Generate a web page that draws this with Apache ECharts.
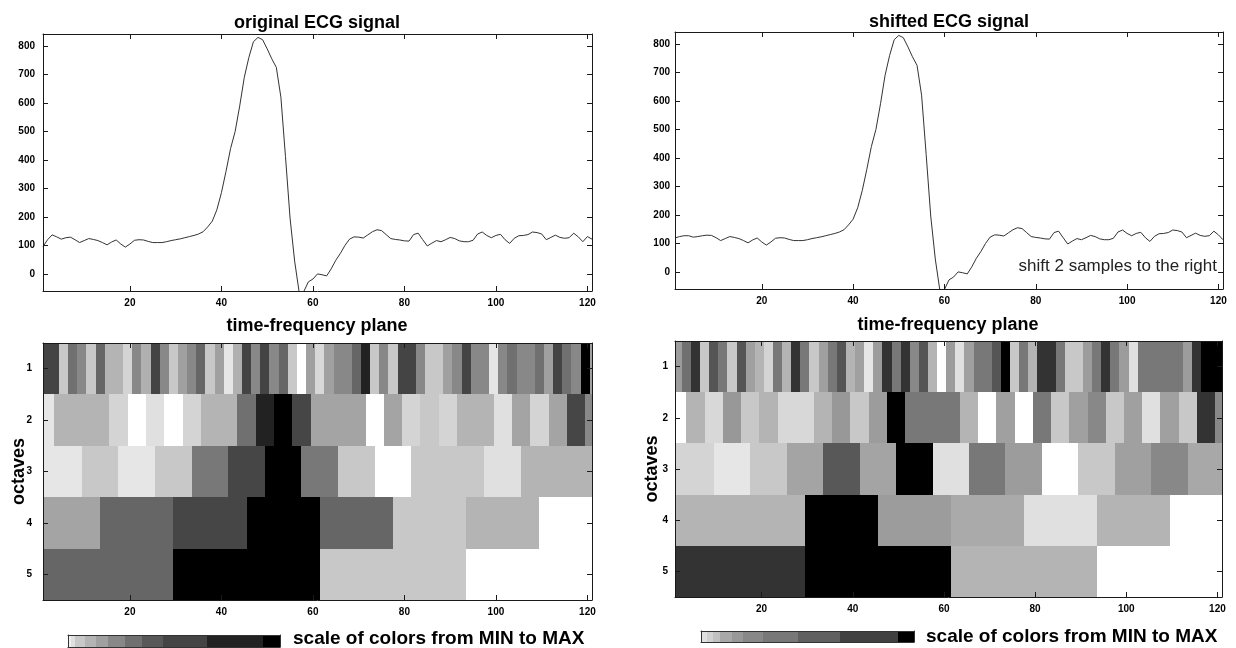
<!DOCTYPE html>
<html>
<head>
<meta charset="utf-8">
<script src="https://cdn.jsdelivr.net/npm/echarts@6/dist/echarts.min.js"></script>
<style>
html,body{margin:0;padding:0;background:#fff;}
#chart{width:1236px;height:648px;}
</style>
</head>
<body>
<div id="chart"></div>
<script>
// ---------------- data ----------------
const xTicks = [20, 40, 60, 80, 100, 120];
const yTicks = [0, 100, 200, 300, 400, 500, 600, 700, 800];
const octaves = ['1', '2', '3', '4', '5'];

// ECG samples 1..121
const ecgOriginal = [96,120,137,130,122,127,129,120,110,117,
  124,121,117,110,102,112,119,105,94,105,
  118,120,119,114,110,110,110,113,117,120,
  123,127,131,135,140,148,165,185,225,285,
  360,440,500,590,690,760,815,830,822,790,
  755,725,620,412,196,45,-65,-62,-28,-18,
  0,-3,-7,18,48,72,100,122,130,129,
  126,137,148,155,152,138,124,121,119,116,
  115,138,143,120,98,108,117,113,120,128,
  124,116,113,113,118,140,147,135,127,135,
  139,120,107,125,134,135,138,147,145,140,
  120,128,136,128,125,127,143,130,113,131,
  122];

const ecgShifted = [119,124,127,127,122,124,127,129,128,120,
  110,117,124,121,117,110,102,112,119,105,
  94,105,118,120,119,114,110,110,110,113,
  117,120,123,127,131,135,140,148,165,185,
  225,285,360,440,500,590,690,760,815,830,
  822,790,755,725,620,412,196,45,-65,-62,
  -28,-18,0,-3,-7,18,48,72,100,122,
  130,129,126,137,148,155,152,138,124,121,
  119,116,115,138,143,120,98,108,117,113,
  120,128,124,116,113,113,118,140,147,135,
  127,135,139,120,107,125,134,135,138,147,
  145,140,120,128,136,128,125,127,143,130,
  113];

// time-frequency plane: support of each octave's cells (in samples)
const octaveFirstStart = [0.5, -0.5, -6.5, -2.5, -2.5];
const octaveCellWidth = [2, 4, 8, 16, 32];

// gray level of each cell (255 = white = MIN, 0 = black = MAX)
const tfOrigOct1 = [0x44,0x44,0xc8,0x70,0x88,0xc8,0x66,0xb4,0xb4,0xd4,
  0x88,0xb0,0x44,0x88,0xc8,0xa0,0x88,0x66,0xc8,0xa0,
  0xe6,0xb0,0x44,0x88,0x44,0x88,0x66,0xc8,0xff,0xa0,
  0xd8,0xa0,0x88,0x88,0x66,0x22,0xc8,0x88,0xc8,0x44,
  0x44,0x88,0xc8,0xc8,0xa0,0x88,0x44,0x88,0x88,0xe6,
  0x88,0x70,0x88,0x88,0x70,0xa0,0x44,0x70,0x88,0x00,
  0xa0];
const tfOrigOct2 = [0xe6,0xb4,0xb4,0xb4,0xd4,0xff,0xe0,0xff,0xd4,0xb4,
  0xb4,0x70,0x22,0x00,0x46,0xa4,0xa4,0xa4,0xff,0xa4,
  0xd4,0xc8,0xd4,0xb4,0xb4,0xe0,0xa4,0xd4,0xa4,0x46,
  0x88];
const tfOrigOct3 = [0xe6,0xe6,0xc8,0xe6,0xc8,0x78,0x46,0x00,0x78,0xc8,0xff,0xc8,0xc8,0xe0,0xb4,0xb4];
const tfOrigOct4 = [0xa4,0x66,0x46,0x00,0x66,0xc8,0xb4,0xff];
const tfOrigOct5 = [0x66,0x00,0xc8,0xff];

const tfShiftOct1 = [0x9c,0x70,0x33,0xc8,0x55,0x78,0xc8,0x55,0xa0,0xb4,
  0xd4,0x78,0xb4,0x33,0x78,0xc8,0xa0,0x78,0x55,0xb4,
  0xa0,0xe6,0x9c,0x33,0x78,0x33,0x88,0x55,0xb4,0xff,
  0x9c,0xe0,0xa0,0x78,0x78,0x55,0x00,0xc8,0x78,0xb4,
  0x33,0x33,0x78,0xc8,0xc8,0x9c,0x78,0x33,0x78,0x9c,
  0xe0,0x78,0x78,0x78,0x78,0x78,0x9c,0x33,0x00,0x00,
  0x00];
const tfShiftOct2 = [0xff,0xb4,0xd8,0x98,0xc8,0xb4,0xd8,0xd8,0xb4,0x98,
  0xc8,0x9c,0x00,0x78,0x78,0x78,0xb4,0xff,0xa0,0xff,
  0x78,0xc8,0xa0,0x88,0xc8,0xa0,0xe0,0xa0,0xc8,0x33,
  0x88];
const tfShiftOct3 = [0xd4,0xd4,0xe6,0xc8,0xa4,0x58,0xa4,0x00,0xe0,0x78,0x9c,0xff,0xc8,0xa0,0x88,0xa8];
const tfShiftOct4 = [0xb4,0xb4,0x00,0x9c,0xaa,0xe0,0xb4,0xff];
const tfShiftOct5 = [0x33,0x00,0xb4,0xff];

// colour scale (MIN -> MAX), position in % of the bar and gray level
const scaleLeftEdges = [0,1.4,3.3,8.0,13.1,19.0,26.9,34.8,45.0,65.4,92.1,100];
const scaleLeftGrays = [0xf0,0xe0,0xc8,0xb4,0xa0,0x88,0x70,0x58,0x44,0x22,0x00];
const scaleRightEdges = [0,3.0,5.8,8.9,14.4,19.8,29.2,45.6,65.2,92.6,100];
const scaleRightGrays = [0xe0,0xd0,0xc0,0xa8,0x98,0x88,0x78,0x60,0x40,0x00];

// ---------------- helpers ----------------
const FONT = '"Liberation Sans", Arial, Helvetica, sans-serif';
const AX = '#1a1a1a';

function buildCells(rows) {
  const out = [];
  rows.forEach(function (vals, r) {
    vals.forEach(function (g, k) {
      const a = octaveFirstStart[r] + k * octaveCellWidth[r];
      out.push([a, a + octaveCellWidth[r], r, g]);
    });
  });
  return out;
}
function buildScale(edges, grays) {
  return grays.map(function (g, i) { return [edges[i], edges[i + 1], g]; });
}
function gray(g) { return 'rgb(' + g + ',' + g + ',' + g + ')'; }

function renderCell(params, api) {
  const row = api.value(2);
  const a = api.coord([api.value(0), row]);
  const b = api.coord([api.value(1), row]);
  const h = api.size([0, 1])[1];
  const x0 = Math.round(a[0]), x1 = Math.round(b[0]);
  const y0 = Math.round(a[1] - h / 2), y1 = Math.round(a[1] + h / 2);
  return { type: 'rect', shape: { x: x0, y: y0, width: x1 - x0, height: y1 - y0 },
    style: { fill: gray(api.value(3)) } };
}
function renderSeg(params, api) {
  const a = api.coord([api.value(0), 0]);
  const b = api.coord([api.value(1), 1]);
  const x0 = Math.round(a[0]), x1 = Math.round(b[0]);
  return { type: 'rect', shape: { x: x0, y: b[1], width: x1 - x0, height: a[1] - b[1] },
    style: { fill: gray(api.value(2)) } };
}

const LBL = { color: '#000', fontWeight: 'bold', fontSize: 10, fontFamily: FONT };

function xVal(grid, pos, showLabel) {
  return { type: 'value', gridIndex: grid, position: pos, min: 1, max: 121, z: 10,
    axisLine: { show: true, onZero: false, lineStyle: { color: AX, width: 1 } },
    axisTick: { show: true, inside: true, length: 5, customValues: xTicks, lineStyle: { color: AX } },
    axisLabel: Object.assign({ show: showLabel, customValues: xTicks, margin: 7 }, LBL),
    splitLine: { show: false } };
}
function yVal(grid, pos, showLabel, margin) {
  return { type: 'value', gridIndex: grid, position: pos, min: -60, max: 842, z: 10,
    axisLine: { show: true, onZero: false, lineStyle: { color: AX, width: 1 } },
    axisTick: { show: true, inside: true, length: 5, customValues: yTicks, lineStyle: { color: AX } },
    axisLabel: Object.assign({ show: showLabel, customValues: yTicks, margin: margin }, LBL),
    splitLine: { show: false } };
}
function yOct(grid, pos, showLabel, margin, nameGap) {
  const ax = { type: 'category', gridIndex: grid, position: pos, data: octaves, inverse: true, z: 10,
    axisLine: { show: true, onZero: false, lineStyle: { color: AX, width: 1 } },
    axisTick: { show: true, inside: true, length: 5, alignWithLabel: true, lineStyle: { color: AX } },
    axisLabel: Object.assign({ show: showLabel, margin: margin }, LBL),
    splitLine: { show: false } };
  if (showLabel) {
    ax.name = 'octaves';
    ax.nameLocation = 'middle';
    ax.nameGap = nameGap;
    ax.nameMoveOverlap = false;
    ax.nameTextStyle = { fontSize: 18, fontWeight: 'bold', color: '#000', fontFamily: FONT };
  }
  return ax;
}
function xBar(grid, pos) {
  return { type: 'value', gridIndex: grid, position: pos, min: 0, max: 100, z: 10,
    axisLine: { show: true, onZero: false, lineStyle: { color: '#333', width: 1 } },
    axisTick: { show: false }, axisLabel: { show: false }, splitLine: { show: false } };
}
function yBar(grid, pos) {
  return { type: 'value', gridIndex: grid, position: pos, min: 0, max: 1, z: 10,
    axisLine: { show: true, onZero: false, lineStyle: { color: '#333', width: 1 } },
    axisTick: { show: false }, axisLabel: { show: false }, splitLine: { show: false } };
}
function txt(text, x, y, size, weight, align) {
  return { type: 'text', x: x, y: y, z: 20,
    style: { text: text, fontSize: size, fontWeight: weight, fontFamily: FONT, fill: '#000',
      textAlign: align, textVerticalAlign: 'middle' } };
}

const lineOrig = ecgOriginal.map(function (v, i) { return [i + 1, v]; });
const lineShift = ecgShifted.map(function (v, i) { return [i + 1, v]; });

const option = {
  animation: false,
  backgroundColor: '#fff',
  grid: [
    { left: 43, top: 34, width: 549, height: 257, outerBoundsMode: 'none' },
    { left: 675, top: 32, width: 548, height: 257, outerBoundsMode: 'none' },
    { left: 43, top: 343, width: 549, height: 257, outerBoundsMode: 'none' },
    { left: 675, top: 341, width: 547, height: 256, outerBoundsMode: 'none' },
    { left: 68, top: 635, width: 212, height: 12, outerBoundsMode: 'none' },
    { left: 701, top: 631, width: 213, height: 11, outerBoundsMode: 'none' }
  ],
  xAxis: [
    xVal(0, 'bottom', true), xVal(0, 'top', false),
    xVal(1, 'bottom', true), xVal(1, 'top', false),
    xVal(2, 'bottom', true), xVal(2, 'top', false),
    xVal(3, 'bottom', true), xVal(3, 'top', false),
    xBar(4, 'bottom'), xBar(4, 'top'),
    xBar(5, 'bottom'), xBar(5, 'top')
  ],
  yAxis: [
    yVal(0, 'left', true, 8), yVal(0, 'right', false, 8),
    yVal(1, 'left', true, 5), yVal(1, 'right', false, 5),
    yOct(2, 'left', true, 11, 15), yOct(2, 'right', false, 11, 15),
    yOct(3, 'left', true, 7, 14), yOct(3, 'right', false, 7, 14),
    yBar(4, 'left'), yBar(4, 'right'),
    yBar(5, 'left'), yBar(5, 'right')
  ],
  series: [
    { type: 'line', xAxisIndex: 0, yAxisIndex: 0, data: lineOrig, symbol: 'none', showSymbol: false,
      clip: true, silent: true, lineStyle: { color: '#333', width: 1 } },
    { type: 'line', xAxisIndex: 2, yAxisIndex: 2, data: lineShift, symbol: 'none', showSymbol: false,
      clip: true, silent: true, lineStyle: { color: '#333', width: 1 } },
    { type: 'custom', xAxisIndex: 4, yAxisIndex: 4, renderItem: renderCell, clip: true, silent: true,
      encode: { x: [0, 1], y: 2 },
      data: buildCells([tfOrigOct1, tfOrigOct2, tfOrigOct3, tfOrigOct4, tfOrigOct5]) },
    { type: 'custom', xAxisIndex: 6, yAxisIndex: 6, renderItem: renderCell, clip: true, silent: true,
      encode: { x: [0, 1], y: 2 },
      data: buildCells([tfShiftOct1, tfShiftOct2, tfShiftOct3, tfShiftOct4, tfShiftOct5]) },
    { type: 'custom', xAxisIndex: 8, yAxisIndex: 8, renderItem: renderSeg, clip: true, silent: true,
      encode: { x: [0, 1] }, data: buildScale(scaleLeftEdges, scaleLeftGrays) },
    { type: 'custom', xAxisIndex: 10, yAxisIndex: 10, renderItem: renderSeg, clip: true, silent: true,
      encode: { x: [0, 1] }, data: buildScale(scaleRightEdges, scaleRightGrays) }
  ],
  graphic: [
    txt('original ECG signal', 317, 23, 18, 'bold', 'center'),
    txt('shifted ECG signal', 949, 22, 18, 'bold', 'center'),
    txt('time-frequency plane', 317, 326, 18, 'bold', 'center'),
    txt('time-frequency plane', 948, 325, 18, 'bold', 'center'),
    txt('scale of colors from MIN to MAX', 293, 639, 19, 'bold', 'left'),
    txt('scale of colors from MIN to MAX', 926, 637, 19, 'bold', 'left'),
    { type: 'text', x: 1217, y: 266, z: 20,
      style: { text: 'shift 2 samples to the right', fontSize: 17, fontWeight: 'normal', fontFamily: FONT,
        fill: '#222', textAlign: 'right', textVerticalAlign: 'middle' } }
  ]
};

const chart = echarts.init(document.getElementById('chart'), null, { renderer: 'canvas' });
chart.setOption(option);
</script>
</body>
</html>
